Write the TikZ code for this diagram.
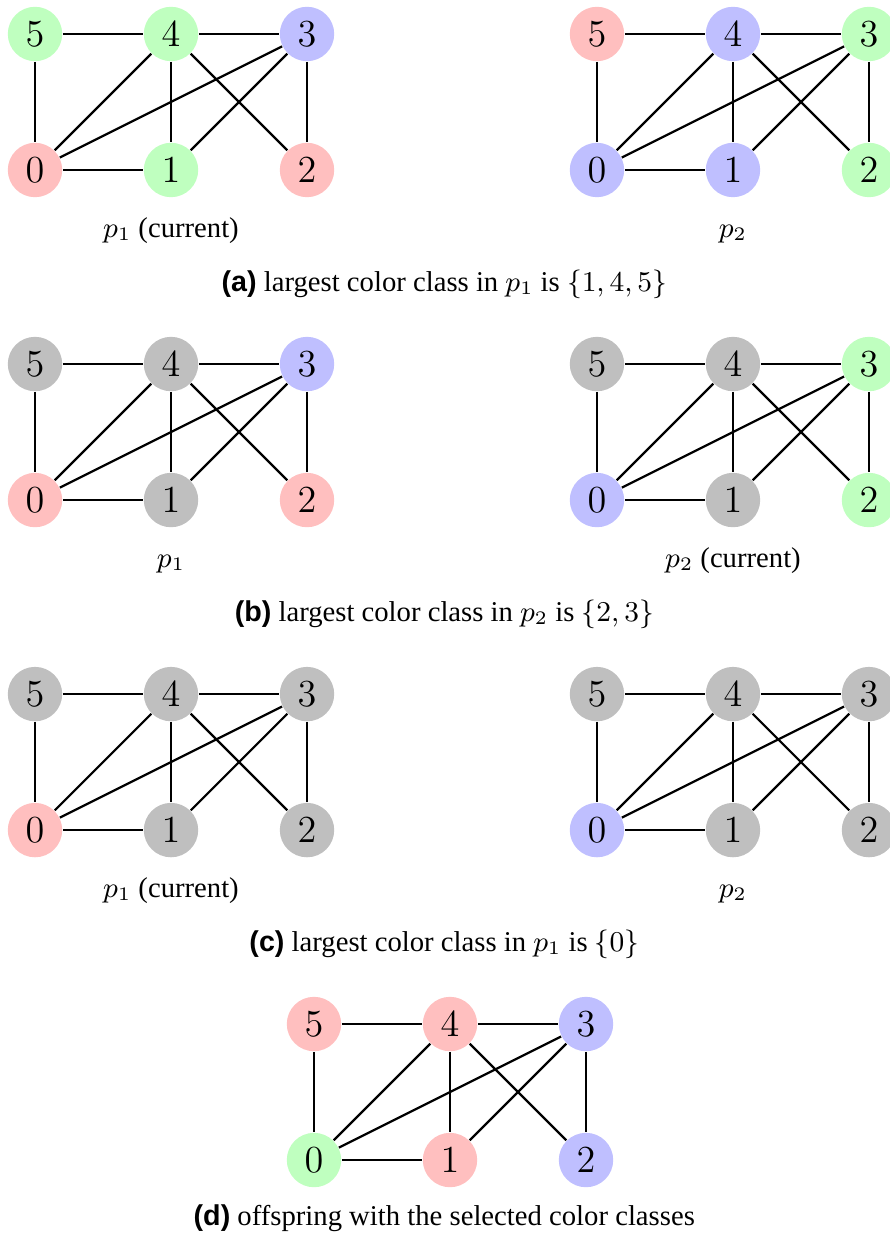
\documentclass[tikz,border=0pt]{standalone}
\usepackage[no-math]{fontspec}
\setmainfont{Liberation Serif}
\newfontfamily\capfont{Liberation Sans}
\usetikzlibrary{positioning}

\colorlet{R}{red!25}
\colorlet{G}{green!25}
\colorlet{B}{blue!25}
\colorlet{N}{black!25}

\tikzset{
  vert/.style={circle, minimum size=0.6cm, inner sep=0pt, draw=none, font=\large},
  edge/.style={line width=0.7pt},
  glabel/.style={text height=1.5ex, text depth=.25ex, inner sep=0pt, font=\small},
  capt/.style={text height=1.5ex, text depth=.25ex, inner sep=0pt, font=\small}
}

% #1 name, #2 place of vertex 0, #3--#8 fill of vertices 0..5
\newcommand{\colgraph}[8]{%
  \begin{scope}[shift={#2}]
    \node[vert, fill=#3] (#1-0) at (0,0)     {$0$};
    \node[vert, fill=#4] (#1-1) at (1.5,0)   {$1$};
    \node[vert, fill=#5] (#1-2) at (3,0)     {$2$};
    \node[vert, fill=#6] (#1-3) at (3,1.5)   {$3$};
    \node[vert, fill=#7] (#1-4) at (1.5,1.5) {$4$};
    \node[vert, fill=#8] (#1-5) at (0,1.5)   {$5$};
  \end{scope}
  \foreach \u/\v in {5/4,4/3,5/0,0/1,0/4,0/3,4/1,4/2,3/1,3/2}
    \draw[edge] (#1-\u) -- (#1-\v);
}
\newcommand{\sublabel}[1]{{\capfont\bfseries (#1)}}

\begin{document}
\begin{tikzpicture}
  \useasboundingbox (0,0) rectangle (9.805,-13.665);

  % (a)
  \colgraph{a1}{(0.386,-1.875)}{R}{G}{R}{B}{G}{G}
  \colgraph{a2}{(6.584,-1.875)}{B}{B}{G}{G}{B}{R}
  \node[glabel] (a1-lab) at (1.886,-2.52) {$p_1$ (current)};
  \node[glabel] (a2-lab) at (8.084,-2.52) {$p_2$};
  \node[capt] (cap-a) at (4.9,-3.11) {\sublabel{a} largest color class in $p_1$ is $\{1,4,5\}$};

  % (b)
  \colgraph{b1}{(0.386,-5.515)}{R}{N}{R}{B}{N}{N}
  \colgraph{b2}{(6.584,-5.515)}{B}{N}{G}{G}{N}{N}
  \node[glabel] (b1-lab) at (1.886,-6.16) {$p_1$};
  \node[glabel] (b2-lab) at (8.084,-6.16) {$p_2$ (current)};
  \node[capt] (cap-b) at (4.9,-6.75) {\sublabel{b} largest color class in $p_2$ is $\{2,3\}$};

  % (c)
  \colgraph{c1}{(0.386,-9.155)}{R}{N}{N}{N}{N}{N}
  \colgraph{c2}{(6.584,-9.155)}{B}{N}{N}{N}{N}{N}
  \node[glabel] (c1-lab) at (1.886,-9.80) {$p_1$ (current)};
  \node[glabel] (c2-lab) at (8.084,-9.80) {$p_2$};
  \node[capt] (cap-c) at (4.9,-10.39) {\sublabel{c} largest color class in $p_1$ is $\{0\}$};

  % (d)
  \colgraph{d}{(3.463,-12.794)}{G}{R}{B}{B}{R}{R}
  \node[capt] (cap-d) at (4.9,-13.42) {\sublabel{d} offspring with the selected color classes};
\end{tikzpicture}
\end{document}
